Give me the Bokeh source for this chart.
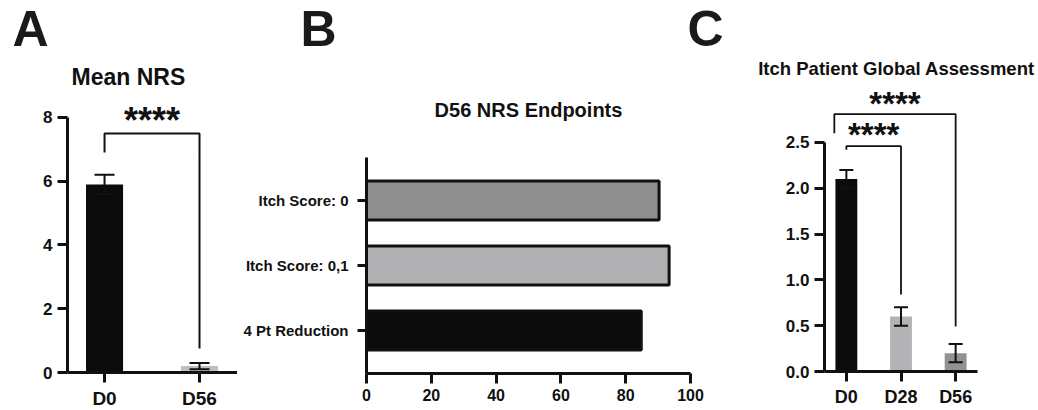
from bokeh.plotting import figure
from bokeh.layouts import row, column
from bokeh.models import ColumnDataSource, Whisker, TeeHead, FixedTicker, Range1d
from bokeh.core.properties import value
from bokeh.embed import file_html
from bokeh.resources import INLINE

FONT = "Liberation Sans"
INK = "#111111"

# ---------------- data ----------------
# Panel A: Mean NRS
a_title = "Mean NRS"
a_groups = ["D0", "D56"]
a_means = [5.9, 0.2]
a_err = [0.3, 0.1]
a_colors = ["#0b0b0b", "#bfbfc2"]

# Panel B: D56 NRS endpoints (percent of patients)
b_title = "D56 NRS Endpoints"
b_endpoints = ["Itch Score: 0", "Itch Score: 0,1", "4 Pt Reduction"]
b_percent = [90.3, 93.4, 84.8]
b_colors = ["#8f8f8f", "#b1b1b4", "#0b0b0b"]
b_ticks = [0, 20, 40, 60, 80, 100]

# Panel C: Itch Patient Global Assessment
c_title = "Itch Patient Global Assessment"
c_groups = ["D0", "D28", "D56"]
c_means = [2.1, 0.6, 0.2]
c_err = [0.1, 0.1, 0.1]
c_colors = ["#0b0b0b", "#b3b3b6", "#929292"]
c_ticks = [0.0, 0.5, 1.0, 1.5, 2.0, 2.5]

panel_letters = ["A", "B", "C"]
sig_label = "****"

STRIP_H = 87   # header strip (panel letters and titles)
W = 1036


def style(p, xsize, ysize):
    for ax in (p.xaxis[0], p.yaxis[0]):
        ax.axis_line_width = 3
        ax.axis_line_color = INK
        ax.major_tick_line_width = 3
        ax.major_tick_line_color = INK
        ax.major_tick_out = 10
        ax.major_tick_in = 0
        ax.minor_tick_line_color = None
        ax.major_label_text_font = FONT
        ax.major_label_text_font_style = "bold"
        ax.major_label_text_color = INK
        ax.major_label_standoff = 5
    p.xaxis[0].major_label_text_font_size = xsize
    p.yaxis[0].major_label_text_font_size = ysize
    p.xgrid.visible = False
    p.ygrid.visible = False
    p.outline_line_color = None


def bold_text(p, x, y, texts, size, align="center", baseline="middle", color=INK):
    p.text(x=x, y=y, text=texts, text_font=value(FONT), text_font_style="bold",
           text_font_size=size, text_align=align, text_baseline=baseline, text_color=color)


# ---------------- header strip (panel letters + titles) ----------------
hd = figure(frame_width=W, frame_height=STRIP_H, x_range=Range1d(0, W),
            y_range=Range1d(STRIP_H, 0), title_location=None,
            min_border_left=0, min_border_right=0, min_border_top=0, min_border_bottom=0,
            x_axis_location=None, y_axis_location=None,
            output_backend="svg", toolbar_location=None)
hd.xgrid.visible = False
hd.ygrid.visible = False
hd.outline_line_color = None
bold_text(hd, [12, 300, 687], [28, 28, 28], panel_letters, "50px", align="left",
          baseline="alphabetic", color="#1a1a1a")
bold_text(hd, [71], [76.7], [a_title], "23px", align="left", baseline="alphabetic")
bold_text(hd, [896], [68.3], [c_title], "18.5px", align="center", baseline="alphabetic")

# ---------------- Panel A ----------------
a_x = list(range(len(a_groups)))
pa = figure(frame_width=170, frame_height=285, x_range=(-0.39, 1.40), y_range=(0, 8.941),
            min_border_left=67, min_border_right=0, min_border_top=0, min_border_bottom=30,
            output_backend="svg", toolbar_location=None)
style(pa, "19px", "17px")
pa.yaxis[0].bounds = (0, 8)
pa.yaxis[0].ticker = FixedTicker(ticks=[0, 2, 4, 6, 8])
pa.xaxis[0].ticker = FixedTicker(ticks=a_x)
pa.xaxis[0].major_label_overrides = {i: g for i, g in enumerate(a_groups)}

src_a = ColumnDataSource(dict(x=a_x, top=a_means, color=a_colors,
                              upper=[m + e for m, e in zip(a_means, a_err)],
                              lower=[m - e for m, e in zip(a_means, a_err)]))
pa.vbar(x="x", top="top", width=0.39, bottom=0, fill_color="color", line_color=None, source=src_a)
wa = Whisker(source=src_a, base="x", upper="upper", lower="lower", line_color=INK, line_width=2,
             upper_head=TeeHead(size=20, line_width=2, line_color=INK),
             lower_head=TeeHead(size=20, line_width=2, line_color=INK), level="overlay")
pa.add_layout(wa)
# significance bracket D0 vs D56
pa.line([a_x[0], a_x[0], a_x[1], a_x[1]], [6.9, 7.5, 7.5, 0.75], line_color=INK, line_width=2)
bold_text(pa, [(a_x[0] + a_x[1]) / 2], [7.91], [sig_label], "36px")

# ---------------- Panel B ----------------
b_y = list(range(len(b_endpoints)))[::-1]
pb = figure(frame_width=324, frame_height=286, x_range=(0, 100), y_range=(-0.66, 3.738),
            min_border_left=129, min_border_right=32, min_border_top=0, min_border_bottom=29,
            output_backend="svg", toolbar_location=None)
style(pb, "16px", "15px")
pb.xaxis[0].ticker = FixedTicker(ticks=b_ticks)
pb.yaxis[0].ticker = FixedTicker(ticks=b_y)
pb.yaxis[0].bounds = (-0.66, 2.66)
pb.yaxis[0].major_label_overrides = {y: e for y, e in zip(b_y, b_endpoints)}
pb.yaxis[0].major_tick_out = 9
pb.yaxis[0].major_label_standoff = 9

src_b = ColumnDataSource(dict(y=b_y, right=b_percent, color=b_colors))
pb.hbar(y="y", right="right", left=0, height=0.6, fill_color="color", line_color=INK,
        line_width=3, source=src_b)
bold_text(pb, [50], [3.385], [b_title], "20px")

# ---------------- Panel C ----------------
c_x = list(range(len(c_groups)))
pc = figure(frame_width=153, frame_height=284, x_range=(-0.4, 2.4), y_range=(0, 3.100),
            min_border_left=102, min_border_right=59, min_border_top=0, min_border_bottom=31,
            output_backend="svg", toolbar_location=None)
style(pc, "18px", "17px")
pc.yaxis[0].bounds = (0, 2.5)
pc.yaxis[0].ticker = FixedTicker(ticks=c_ticks)
pc.yaxis[0].major_label_overrides = {t: f"{t:.1f}" for t in c_ticks}
pc.xaxis[0].ticker = FixedTicker(ticks=c_x)
pc.xaxis[0].major_label_overrides = {i: g for i, g in enumerate(c_groups)}

src_c = ColumnDataSource(dict(x=c_x, top=c_means, color=c_colors,
                              upper=[m + e for m, e in zip(c_means, c_err)],
                              lower=[m - e for m, e in zip(c_means, c_err)]))
pc.vbar(x="x", top="top", width=0.4, bottom=0, fill_color="color", line_color=None, source=src_c)
wc = Whisker(source=src_c, base="x", upper="upper", lower="lower", line_color=INK, line_width=2,
             upper_head=TeeHead(size=14, line_width=2, line_color=INK),
             lower_head=TeeHead(size=14, line_width=2, line_color=INK), level="overlay")
pc.add_layout(wc)
# brackets: D0 vs D56 (outer), D0 vs D28 (inner)
pc.line([c_x[0] - 0.22, c_x[0] - 0.22, c_x[2], c_x[2]], [2.6, 2.81, 2.81, 0.49],
        line_color=INK, line_width=1.8)
pc.line([c_x[0], c_x[0], c_x[1], c_x[1]], [2.42, 2.46, 2.46, 0.84],
        line_color=INK, line_width=1.8)
bold_text(pc, [(c_x[0] - 0.22 + c_x[2]) / 2, (c_x[0] + c_x[1]) / 2], [2.925, 2.59],
          [sig_label, sig_label], "33px")

layout = column(hd, row(pa, pb, pc))
open("out.html", "w").write(file_html(layout, INLINE))
